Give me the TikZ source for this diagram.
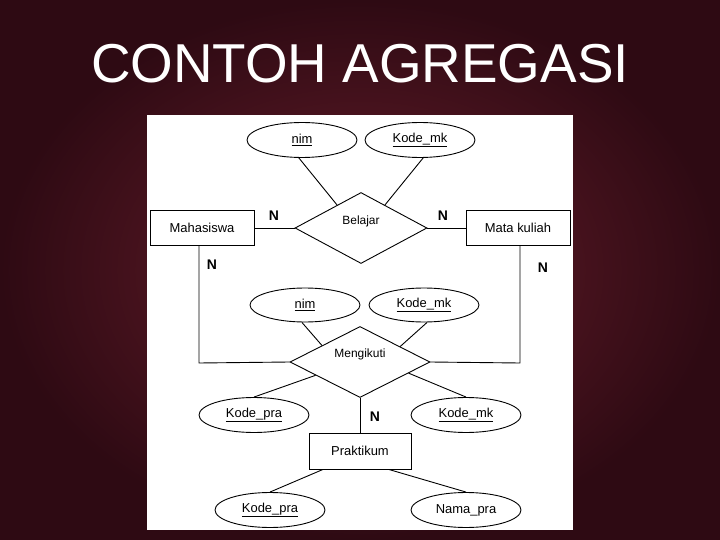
\documentclass[tikz,border=0pt]{standalone}
\usepackage{fontspec}
\setmainfont{Liberation Sans}
\usetikzlibrary{shapes.geometric,calc}
\definecolor{bgin}{HTML}{6A1E2C}
\definecolor{bgout}{HTML}{2E0A13}
\begin{document}
\begin{tikzpicture}[x=1bp,y=-1bp,
  attr/.style={draw,ellipse,line width=0.9bp,minimum width=110bp,minimum height=35bp,inner sep=0pt,font=\fontsize{13}{14}\selectfont},
  ent/.style={draw,line width=0.9bp,minimum width=104bp,minimum height=35bp,inner sep=0pt,font=\fontsize{13}{14}\selectfont},
  rel/.style={draw,diamond,line width=0.9bp,aspect=1.9,inner sep=0pt},
  rlab/.style={font=\fontsize{12}{14}\selectfont},
  card/.style={font=\bfseries\fontsize{14}{15}\selectfont},
  ln/.style={draw,line width=0.9bp}]
\useasboundingbox (0,0) rectangle (720,540);
\shade[inner color=bgin,outer color=bgout] (0,0) rectangle (720,540);
\node[white,font=\fontsize{55}{60}\selectfont] (title) at (360,64) {CONTOH AGREGASI};
\node[fill=white,minimum width=426bp,minimum height=415bp,inner sep=0pt,anchor=north west] (panel) at (147,115) {};
% nodes
\node[attr] (nim1) at (302,140) {\underline{nim}};
\node[attr] (kmk1) at (420,140) {\underline{Kode\_mk}};
\node[rel,minimum width=132bp,minimum height=71bp] (bel) at (361,228) {};
\node[rlab] (belt) at (361,221) {Belajar};
\node[ent] (mhs) at (202,228) {Mahasiswa};
\node[ent] (mk) at (518,228) {Mata kuliah};
\node[attr,minimum height=34bp] (nim2) at (305,305) {\underline{nim}};
\node[attr,minimum height=34bp] (kmk2) at (424,305) {\underline{Kode\_mk}};
\node[rel,minimum width=140bp,minimum height=71bp] (ikut) at (360,362) {};
\node[rlab] (ikutt) at (360,354) {Mengikuti};
\node[attr] (kp1) at (254,415) {\underline{Kode\_pra}};
\node[attr] (kmk3) at (466,415) {\underline{Kode\_mk}};
\node[ent,minimum width=102bp,minimum height=36bp] (pr) at (360,451) {Praktikum};
\node[attr] (kp2) at (270,510) {\underline{Kode\_pra}};
\node[attr] (np) at (466,510) {Nama\_pra};
% cardinalities
\node[card] (n1) at (274,216) {N};
\node[card] (n2) at (443,216) {N};
\node[card] (n3) at (212,265) {N};
\node[card] (n4) at (543,268) {N};
\node[card] (n5) at (375,417) {N};
% connectors
\coordinate (c1) at (199,363);
\coordinate (c2) at (520,363);
\draw[ln] (nim1.-100) -- ($(bel.west)!0.64!(bel.north)$);
\draw[ln] (kmk1.-80) -- ($(bel.north)!0.36!(bel.east)$);
\draw[ln] (mhs.east) -- (bel.west);
\draw[ln] (mk.west) -- (bel.east);
\draw[ln] (mhs.south -| c1) -- (c1) -- (ikut.west);
\draw[ln] (mk.south -| c2) -- (c2) -- (ikut.east);
\draw[ln] (nim2.-100) -- ($(ikut.west)!0.46!(ikut.north)$);
\draw[ln] (kmk2.-80) -- ($(ikut.north)!0.57!(ikut.east)$);
\draw[ln] (kp1.north) -- ($(ikut.west)!0.37!(ikut.south)$);
\draw[ln] (kmk3.north) -- ($(ikut.east)!0.31!(ikut.south)$);
\draw[ln] (ikut.south) -- (pr.north);
\draw[ln] ($(pr.south west)!0.14!(pr.south east)$) -- (kp2.north);
\draw[ln] ($(pr.south west)!0.78!(pr.south east)$) -- (np.north);
\end{tikzpicture}
\end{document}
